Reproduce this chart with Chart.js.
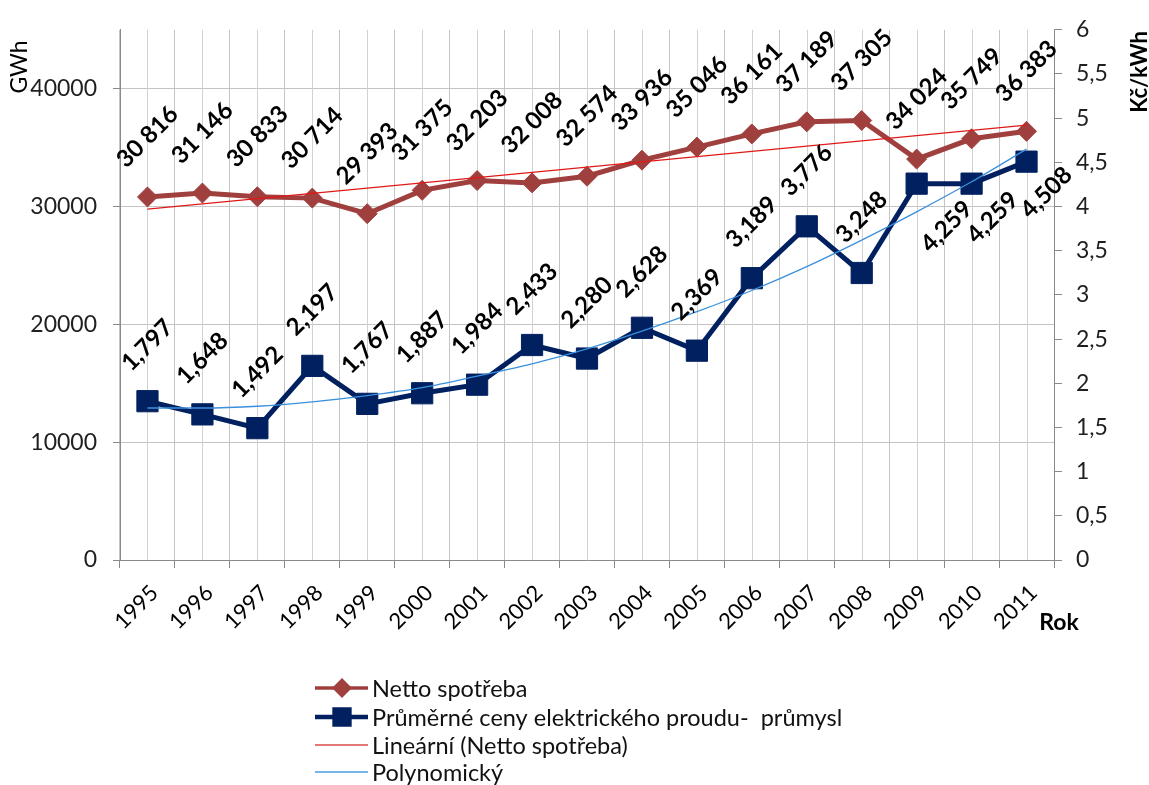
<!DOCTYPE html>
<html lang="cs">
<head>
<meta charset="UTF-8">
<title>Netto spotřeba a ceny elektrického proudu</title>
<script src="https://cdn.jsdelivr.net/npm/chart.js"></script>
<style>
  html, body { margin: 0; padding: 0; background: #fff; }
</style>
</head>
<body>
<canvas id="myChart" width="1149" height="785"></canvas>
<script>
// roky a hodnoty
const years = ['1995', '1996', '1997', '1998', '1999', '2000', '2001', '2002', '2003',
               '2004', '2005', '2006', '2007', '2008', '2009', '2010', '2011'];
const nettoSpotreba = [30816, 31146, 30833, 30714, 29393, 31375, 32203, 32008, 32574,
                       33936, 35046, 36161, 37189, 37305, 34024, 35749, 36383];
const cenyPrumysl = [1.797, 1.648, 1.492, 2.197, 1.767, 1.887, 1.984, 2.433, 2.280,
                     2.628, 2.369, 3.189, 3.776, 3.248, 4.259, 4.259, 4.508];
// trendy (lineární: jen koncové body, polynomický: hodnota v každém roce)
const linearniTrend = [29776, null, null, null, null, null, null, null, null,
                       null, null, null, null, null, null, null, 36913];
const polynomTrend = [1.72, 1.72, 1.74, 1.79, 1.86, 1.95, 2.08, 2.22, 2.39,
                      2.59, 2.81, 3.05, 3.32, 3.62, 3.94, 4.28, 4.65];
const gwhTicks = [0, 10000, 20000, 30000, 40000];

const RED = '#A0403E';
const NAVY = '#002060';
const GRID = '#c4c4c4';
const AXIS = '#8a8a8a';

Chart.defaults.font.family = 'Lato';
Chart.defaults.color = '#1f1f1f';

function fmtThousands(v) {
    return String(v).replace(/\B(?=(\d{3})+(?!\d))/g, ' ');
}
function fmtDec(v, d) {
    return (d === undefined ? String(v) : v.toFixed(d)).replace('.', ',');
}

// svislé čáry uprostřed kategorií
const midGrid = {
    id: 'midGrid',
    beforeDatasetsDraw(chart) {
        const { ctx, chartArea, scales } = chart;
        ctx.save();
        ctx.strokeStyle = '#d2d2d2';
        ctx.lineWidth = 1;
        years.forEach((y, i) => {
            const x = Math.round(scales.x.getPixelForValue(i)) + 0.5;
            ctx.beginPath();
            ctx.moveTo(x, chartArea.top);
            ctx.lineTo(x, chartArea.bottom);
            ctx.stroke();
        });
        ctx.restore();
    }
};

// popisky hodnot natočené o 45°
const labelShift = {
    1: { 14: [30, 43], 15: [21, 34], 16: [20, 31] }
};
const valueLabels = {
    id: 'valueLabels',
    afterDatasetsDraw(chart) {
        const { ctx } = chart;
        ctx.save();
        ctx.font = 'bold 24px Lato';
        ctx.fillStyle = '#000';
        ctx.textAlign = 'center';
        ctx.textBaseline = 'middle';
        [0, 1].forEach(di => {
            const meta = chart.getDatasetMeta(di);
            const vals = chart.data.datasets[di].data;
            meta.data.forEach((pt, i) => {
                const txt = di === 0 ? fmtThousands(vals[i]) : fmtDec(vals[i], 3);
                let dx = 0, dy = di === 0 ? -60 : -56;
                const s = labelShift[di] && labelShift[di][i];
                if (s) { dx = s[0]; dy = s[1]; }
                ctx.save();
                ctx.translate(pt.x + dx, pt.y + dy);
                ctx.rotate(-Math.PI / 4);
                ctx.fillText(txt, 0, 0);
                ctx.restore();
            });
        });
        ctx.restore();
    }
};

// názvy os a legenda
const extras = {
    id: 'extras',
    afterDraw(chart) {
        const { ctx, chartArea } = chart;
        ctx.save();
        ctx.fillStyle = '#000';
        ctx.textBaseline = 'middle';
        ctx.textAlign = 'center';

        ctx.save();
        ctx.translate(20, 67);
        ctx.rotate(-Math.PI / 2);
        ctx.font = '23px Lato';
        ctx.fillText('GWh', 0, 0);
        ctx.restore();

        ctx.save();
        ctx.translate(1140, 72);
        ctx.rotate(-Math.PI / 2);
        ctx.font = 'bold 22px Lato';
        ctx.fillText('Kč/kWh', 0, 0);
        ctx.restore();

        ctx.font = 'bold 23px Lato';
        ctx.fillText('Rok', chartArea.right + 5, 623);

        const items = [
            { text: 'Netto spotřeba', color: RED, width: 3.5, marker: 'rectRot', r: 7.5 },
            { text: 'Průměrné ceny elektrického proudu-  průmysl', color: NAVY, width: 4.5, marker: 'rect', r: 10.5 },
            { text: 'Lineární (Netto spotřeba)', color: '#d94a4a', width: 1.5 },
            { text: 'Polynomický', color: '#4a9be0', width: 1.5 }
        ];
        const rows = [688, 717, 745, 772];
        ctx.textAlign = 'left';
        ctx.font = '23.5px Lato';
        items.forEach((it, k) => {
            const y = rows[k];
            ctx.strokeStyle = it.color;
            ctx.lineWidth = it.width;
            ctx.beginPath();
            ctx.moveTo(315, y);
            ctx.lineTo(368, y);
            ctx.stroke();
            if (it.marker) {
                Chart.helpers.drawPoint(ctx, {
                    pointStyle: it.marker, radius: it.r, borderWidth: 1, rotation: 0
                }, 342, y);
                ctx.fillStyle = it.color;
                ctx.fill();
            }
            ctx.fillStyle = '#111';
            ctx.fillText(it.text, 372, y + 1);
        });
        ctx.restore();
    }
};

new Chart(document.getElementById('myChart'), {
    type: 'line',
    data: {
        labels: years,
        datasets: [{
            label: 'Netto spotřeba',
            data: nettoSpotreba,
            yAxisID: 'y',
            borderColor: RED,
            borderWidth: 5,
            pointStyle: 'rectRot',
            pointRadius: 10,
            pointBorderWidth: 1,
            pointBackgroundColor: RED,
            pointBorderColor: RED,
            order: 2
        }, {
            label: 'Průměrné ceny elektrického proudu-  průmysl',
            data: cenyPrumysl,
            yAxisID: 'y1',
            borderColor: NAVY,
            borderWidth: 5,
            pointStyle: 'rect',
            pointRadius: 15,
            pointBorderWidth: 1,
            pointBackgroundColor: NAVY,
            pointBorderColor: NAVY,
            order: 1
        }, {
            label: 'Lineární (Netto spotřeba)',
            data: linearniTrend,
            yAxisID: 'y',
            borderColor: '#e01818',
            borderWidth: 1.2,
            pointRadius: 0,
            spanGaps: true,
            order: 0
        }, {
            label: 'Polynomický',
            data: polynomTrend,
            yAxisID: 'y1',
            borderColor: '#3b90dc',
            borderWidth: 1.3,
            pointRadius: 0,
            cubicInterpolationMode: 'monotone',
            order: 0
        }]
    },
    options: {
        responsive: false,
        animation: false,
        devicePixelRatio: 1,
        layout: { padding: { top: 25, left: 0, right: 0, bottom: 0 } },
        plugins: { legend: { display: false }, tooltip: { enabled: false } },
        scales: {
            x: {
                type: 'category',
                offset: true,
                grid: { offset: true, color: GRID, tickColor: AXIS, tickLength: 8 },
                border: { color: AXIS },
                ticks: {
                    minRotation: 45, maxRotation: 45, autoSkip: false,
                    font: { size: 22 }, color: '#000', padding: 12, labelOffset: 7
                },
                afterFit(s) { s.height = 225; }
            },
            y: {
                position: 'left',
                min: 0,
                max: 45000,
                grid: { color: GRID, tickColor: AXIS, tickLength: 7 },
                border: { color: AXIS },
                ticks: { font: { size: 23 }, padding: 16, callback: v => String(v) },
                afterBuildTicks(s) { s.ticks = gwhTicks.map(v => ({ value: v })); },
                afterFit(s) { s.width = 120; }
            },
            y1: {
                position: 'right',
                min: 0,
                max: 6,
                grid: { drawOnChartArea: false, tickColor: AXIS, tickLength: 8 },
                border: { color: AXIS },
                ticks: { stepSize: 0.5, font: { size: 23 }, padding: 14, callback: v => fmtDec(v) },
                afterFit(s) { s.width = 95; }
            }
        }
    },
    plugins: [midGrid, valueLabels, extras]
});
</script>
</body>
</html>
